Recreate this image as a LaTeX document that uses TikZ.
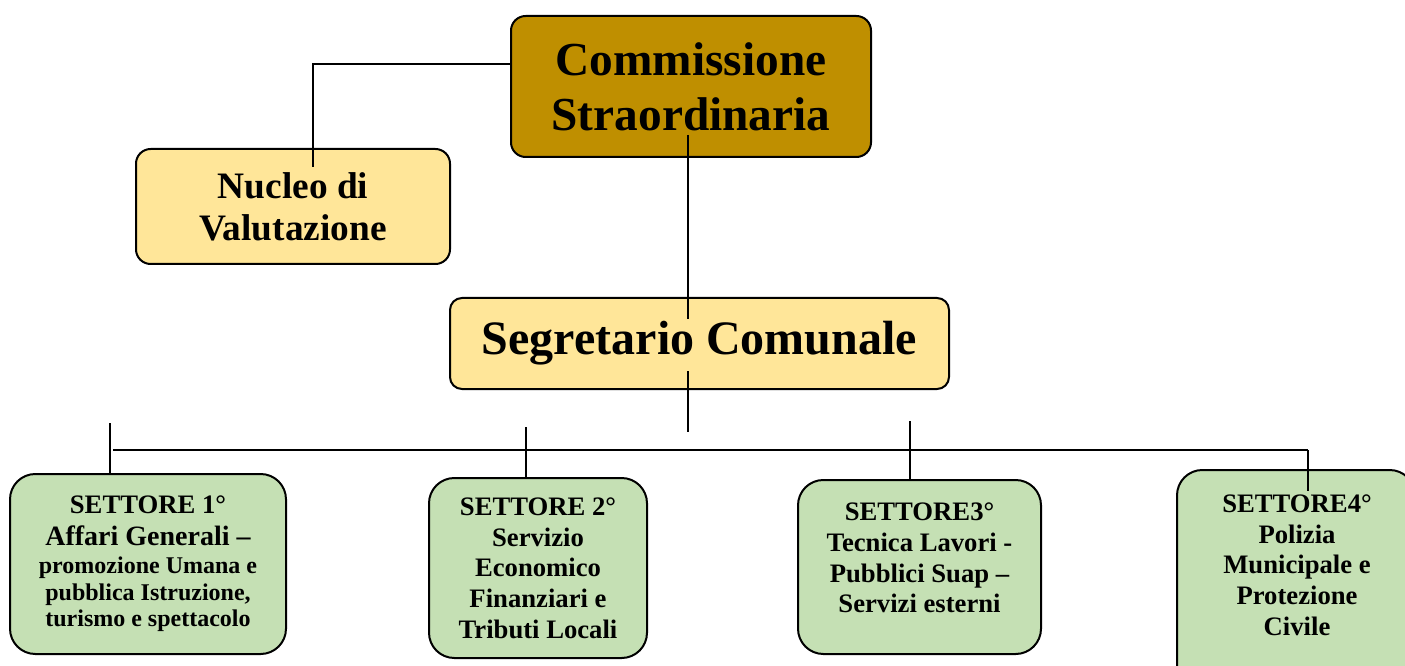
\documentclass[tikz,border=0pt]{standalone}
\usepackage{fontspec}
\setmainfont{Liberation Serif}
\usetikzlibrary{calc}
\definecolor{gold}{HTML}{BF8F00}
\definecolor{cream}{HTML}{FFE699}
\definecolor{sage}{HTML}{C5E0B4}
\begin{document}
\begin{tikzpicture}[x=0.75pt,y=-0.75pt,
  box/.style={draw=black, line width=1.5pt, inner sep=0pt, align=center, font=\bfseries},
  topbox/.style={box, rounded corners=11pt},
  sector/.style={box, fill=sage, rounded corners=19pt},
  sectortext/.style={inner sep=0pt, align=center, font=\bfseries\fontsize{20}{23}\selectfont},
  conn/.style={line width=1.1pt},
  busline/.style={line width=1.5pt}]
\useasboundingbox (0,0) rectangle (1405,666);

% boxes
\node[topbox, fill=gold, minimum width=270pt, minimum height=105.75pt,
      font=\bfseries\fontsize{35.5}{41}\selectfont] (comm) at (691,86.5)
      {Commissione\\Straordinaria};
\node[topbox, fill=cream, minimum width=235.5pt, minimum height=86.25pt,
      font=\bfseries\fontsize{28}{31.5}\selectfont] (nuc) at (293,206.5)
      {Nucleo di\\Valutazione};
\node[topbox, fill=cream, rounded corners=9pt, minimum width=374.25pt, minimum height=68.25pt,
      font=\bfseries\fontsize{36}{40}\selectfont] (seg) at (699.5,343.5)
      {Segretario Comunale};

\node[sector, minimum width=207pt, minimum height=135pt,
      font=\bfseries\fontsize{18}{20}\selectfont] (s1) at (148,564)
  {{\fontsize{20}{23}\selectfont SETTORE 1°}\\[4pt]
   {\fontsize{21}{23}\selectfont Affari Generali –}\\[1pt]
   promozione Umana e\\
   pubblica Istruzione,\\
   turismo e spettacolo};
\node[sector, minimum width=163.5pt, minimum height=135pt,
      font=\bfseries\fontsize{20}{23}\selectfont] (s2) at (538,568)
  {SETTORE 2°\\Servizio\\Economico\\Finanziari e\\Tributi Locali};
\node[sector, minimum width=182.25pt, minimum height=130.5pt] (s3) at (919.5,567) {};
\node[sectortext] (s3t) at (919.5,558)
  {SETTORE3°\\Tecnica Lavori -\\Pubblici Suap –\\Servizi esterni};
\node[sector, minimum width=178.5pt, minimum height=165pt] (s4) at (1296,580) {};
\node[sectortext] (s4t) at (1297,565)
  {SETTORE4°\\Polizia\\Municipale e\\Protezione\\Civile};

% connector ends
\coordinate (busL) at (113,450);
\coordinate (busR) at (1308,450);
\coordinate (segout) at (688,432);
\coordinate (t1) at (110,423);
\coordinate (t2) at (526,427);
\coordinate (t3) at (910,421);

% connectors
\draw[conn] ($(comm.west)+(0,-22.5)$) -| ($(nuc.north)+(20,19)$);
\draw[conn] ($(comm.south)+(-3,-23)$) -- ($(seg.north)+(-11.5,22)$);
\draw[conn] ($(seg.south)+(-11.5,-19)$) -- (segout);
\draw[busline] (busL) -- (busR);
\draw[conn] (busR) -- ($(busR |- s4.north)+(0,22)$);
\draw[conn] (t1) -- (t1 |- s1.north);
\draw[conn] (t2) -- (t2 |- s2.north);
\draw[conn] (t3) -- (t3 |- s3.north);
\end{tikzpicture}
\end{document}
